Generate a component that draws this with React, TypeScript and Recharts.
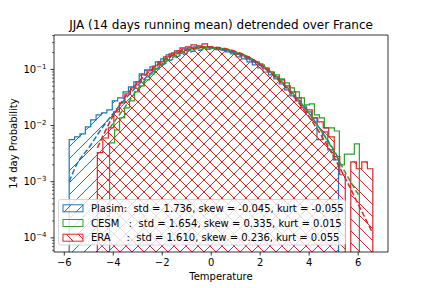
import React from 'react';
import { ComposedChart, Area, Line, XAxis, YAxis } from 'recharts';

// histogram densities, 50 equal bins over each range
const plasimRange = [-5.8, 5.2];
const plasimProb = [
  0.0056, 0.0063, 0.0071, 0.0095, 0.0126, 0.0155, 0.0168, 0.019, 0.0275, 0.0311,
  0.0398, 0.0488, 0.06, 0.083, 0.098, 0.111, 0.136, 0.154, 0.181, 0.197,
  0.213, 0.232, 0.241, 0.251, 0.251, 0.248, 0.241, 0.232, 0.222, 0.205,
  0.189, 0.167, 0.154, 0.136, 0.12, 0.106, 0.09, 0.08, 0.0678, 0.0552,
  0.0432, 0.0337, 0.0275, 0.0224, 0.0175, 0.0137, 0.0056, 0.0077, 0.0037, 0.00245,
];

const cesmRange = [-4.15, 6.05];
const cesmProb = [
  0.0049, 0.0084, 0.0137, 0.0207, 0.0275, 0.0398, 0.0508, 0.065, 0.083, 0.102,
  0.125, 0.148, 0.174, 0.189, 0.205, 0.222, 0.232, 0.241, 0.251, 0.251,
  0.241, 0.241, 0.232, 0.222, 0.205, 0.189, 0.181, 0.167, 0.148, 0.136,
  0.12, 0.106, 0.09, 0.08, 0.0678, 0.0575, 0.0469, 0.0398, 0.0311, 0.0233,
  0.0243, 0.0155, 0.0137, 0.0091, 0.0091, 0.008, 0.002, 0.0031, 0.0031, 0.0047,
];

const eraRange = [-4.65, 6.6];
const eraProb = [
  0.0033, 0.006, 0.0091, 0.0175, 0.0253, 0.0366, 0.0469, 0.06, 0.08, 0.094,
  0.115, 0.136, 0.167, 0.189, 0.213, 0.241, 0.251, 0.273, 0.262, 0.284,
  0.251, 0.241, 0.232, 0.222, 0.205, 0.189, 0.174, 0.154, 0.136, 0.125,
  0.106, 0.09, 0.0736, 0.065, 0.0508, 0.0398, 0.0311, 0.0207, 0.019, 0.0137,
  0.0116, 0.0091, 0.0063, 0.0028, 0.00133, 0, 0.00226, 0.0017, 0.00226, 0.0017,
];

// fitted pdfs (dashed)
const plasimFitT = [-5.8, -5.5, -5, -4.5, -4, -3.5, -3, -2.5, -2, -1.5, -1, -0.5, 0, 0.5, 1, 1.5, 2, 2.5, 3, 3.5, 4, 4.5, 5, 5.2];
const plasimFitP = [0.001, 0.002, 0.004, 0.0085, 0.0165, 0.03, 0.052, 0.083, 0.118, 0.158, 0.195, 0.22, 0.23, 0.22, 0.195, 0.158, 0.118, 0.082, 0.052, 0.03, 0.0165, 0.008, 0.0037, 0.0026];
const cesmFitT = [-4.15, -3.5, -3, -2.5, -2, -1.5, -1, -0.5, 0, 0.5, 1, 1.5, 2, 2.5, 3, 3.5, 4, 4.5, 5, 5.5, 6.05];
const cesmFitP = [0.009, 0.022, 0.045, 0.08, 0.125, 0.17, 0.21, 0.235, 0.241, 0.232, 0.205, 0.168, 0.125, 0.086, 0.054, 0.031, 0.0165, 0.008, 0.0035, 0.0014, 0.00055];
const eraFitT = [-4.65, -4, -3.5, -3, -2.5, -2, -1.5, -1, -0.5, 0, 0.5, 1, 1.5, 2, 2.5, 3, 3.5, 4, 4.5, 5, 5.5, 6, 6.6];
const eraFitP = [0.004, 0.015, 0.033, 0.058, 0.094, 0.14, 0.185, 0.222, 0.245, 0.25, 0.238, 0.208, 0.168, 0.122, 0.082, 0.05, 0.028, 0.0142, 0.0066, 0.0028, 0.0011, 0.0004, 0.00012];

const legendLabels = [
  'Plasim:  std = 1.736, skew = -0.045, kurt = -0.055',
  'CESM   :  std = 1.654, skew = 0.335, kurt = 0.015',
  'ERA     :  std = 1.610, skew = 0.236, kurt = 0.055',
];
const xTicks = [-6, -4, -2, 0, 2, 4, 6];
const yDecades = [1e-5, 1e-4, 1e-3, 1e-2, 1e-1];

const BLUE = '#1f77b4';
const GREEN = '#2ca02c';
const RED = '#d62728';
const FONT = 'DejaVu Sans, sans-serif';

const X_MIN = -6.42;
const X_MAX = 7.22;
const Y_MIN = 5.6e-5;
const Y_MAX = 0.41;
const FLOOR = 1e-6;

const LEFT = 54;
const RIGHT = 388;
const TOP = 35;
const BOTTOM = 252;

const stepData = (range: number[], prob: number[]) => {
  const n = prob.length;
  const w = (range[1] - range[0]) / n;
  const pts = [{ x: range[0], y: FLOOR }];
  prob.forEach((p, i) => pts.push({ x: range[0] + i * w, y: p > 0 ? p : FLOOR }));
  pts.push({ x: range[1], y: prob[n - 1] > 0 ? prob[n - 1] : FLOOR });
  pts.push({ x: range[1], y: FLOOR });
  return pts;
};

const fitData = (t: number[], p: number[]) => t.map((x, i) => ({ x, y: p[i] }));

const yTicks: number[] = [];
yDecades.forEach((d) => {
  for (let m = 1; m <= 9; m++) {
    const v = m * d;
    if (v >= Y_MIN && v <= Y_MAX) yTicks.push(v);
  }
});

const YTick = (props: any) => {
  const { y, payload } = props;
  const v = payload.value;
  const exp = Math.round(Math.log10(v));
  const major = Math.abs(v - Math.pow(10, exp)) < v * 1e-6;
  return (
    <g>
      <line x1={LEFT - (major ? 3.5 : 2)} x2={LEFT} y1={y} y2={y} stroke="#000" strokeWidth={major ? 0.8 : 0.6} />
      {major && (
        <text x={46.5} y={y + 3.6} textAnchor="end" fontSize={10} fontFamily={FONT} fill="#000">
          10
          <tspan dy={-4.4} fontSize={7}>{'\u2212' + -exp}</tspan>
        </text>
      )}
    </g>
  );
};

const XTick = (props: any) => {
  const { x, payload } = props;
  const v = payload.value;
  return (
    <g>
      <line x1={x} x2={x} y1={BOTTOM} y2={BOTTOM + 3.5} stroke="#000" strokeWidth={0.8} />
      <text x={x} y={BOTTOM + 13.5} textAnchor="middle" fontSize={10} fontFamily={FONT} fill="#000">
        {v < 0 ? '\u2212' + -v : String(v)}
      </text>
    </g>
  );
};

const Patterns = () => (
  <svg width={0} height={0} style={{ position: 'absolute' }}>
    <defs>
      <pattern id="hatchBlue" patternUnits="userSpaceOnUse" width={12} height={12}>
        <path d="M0,12 L12,0 M-3,3 L3,-3 M9,15 L15,9" stroke={BLUE} strokeWidth={1} />
      </pattern>
      <pattern id="hatchRed" patternUnits="userSpaceOnUse" width={12} height={12}>
        <path d="M0,0 L12,12 M-3,9 L3,15 M9,-3 L15,3" stroke={RED} strokeWidth={1} />
      </pattern>
    </defs>
  </svg>
);

const Overlay = () => {
  const rows = [
    { fill: 'url(#hatchBlue)', stroke: BLUE },
    { fill: 'none', stroke: GREEN },
    { fill: 'url(#hatchRed)', stroke: RED },
  ];
  return (
    <svg width={432} height={288} style={{ position: 'absolute', left: 0, top: 0, pointerEvents: 'none' }}>
      <line x1={LEFT} x2={RIGHT} y1={TOP} y2={TOP} stroke="#000" strokeWidth={0.8} />
      <line x1={RIGHT} x2={RIGHT} y1={TOP} y2={BOTTOM} stroke="#000" strokeWidth={0.8} />
      <text x={(LEFT + RIGHT) / 2} y={29} textAnchor="middle" fontSize={12} fontFamily={FONT} fill="#000">
        JJA (14 days running mean) detrended over France
      </text>
      <text x={(LEFT + RIGHT) / 2} y={280} textAnchor="middle" fontSize={10} fontFamily={FONT} fill="#000">
        Temperature
      </text>
      <text
        x={0}
        y={0}
        transform={`translate(16.5, ${(TOP + BOTTOM) / 2}) rotate(-90)`}
        textAnchor="middle"
        fontSize={10}
        fontFamily={FONT}
        fill="#000"
      >
        14 day Probability
      </text>
      <rect x={58.5} y={199.5} width={287} height={45.5} rx={2} fill="#fff" fillOpacity={0.8} stroke="#cccccc" strokeWidth={0.8} />
      {rows.map((r, i) => {
        const cy = 208.3 + i * 14.7;
        return (
          <g key={i}>
            <rect x={63} y={cy - 3.5} width={20} height={7} fill={r.fill} stroke={r.stroke} strokeWidth={1} />
            <text x={91} y={cy + 3.6} fontSize={10} fontFamily={FONT} fill="#000" style={{ whiteSpace: 'pre' }}>
              {legendLabels[i]}
            </text>
          </g>
        );
      })}
    </svg>
  );
};

const App = () => {
  return (
    <div style={{ position: 'absolute', left: 0, top: 0, width: 432, height: 288, background: '#fff' }}>
      <Patterns />
      <ComposedChart width={432} height={288} margin={{ top: TOP, right: 432 - RIGHT, bottom: 0, left: 0 }}>
        <XAxis
          dataKey="x"
          type="number"
          domain={[X_MIN, X_MAX]}
          allowDataOverflow
          ticks={xTicks}
          interval={0}
          height={288 - BOTTOM}
          tickLine={false}
          tickSize={0}
          tick={XTick}
          axisLine={{ stroke: '#000', strokeWidth: 0.8 }}
        />
        <YAxis
          type="number"
          scale="log"
          domain={[Y_MIN, Y_MAX]}
          allowDataOverflow
          ticks={yTicks}
          interval={0}
          width={LEFT}
          tickLine={false}
          tickSize={0}
          tick={YTick}
          axisLine={{ stroke: '#000', strokeWidth: 0.8 }}
        />
        <Area
          data={stepData(plasimRange, plasimProb)}
          dataKey="y"
          type="stepAfter"
          baseValue={FLOOR}
          stroke={BLUE}
          strokeWidth={1.2}
          fill="url(#hatchBlue)"
          fillOpacity={1}
          isAnimationActive={false}
        />
        <Line data={fitData(plasimFitT, plasimFitP)} dataKey="y" type="monotone" stroke={BLUE} strokeWidth={1.5} strokeDasharray="5.5 2.4" dot={false} isAnimationActive={false} />
        <Area
          data={stepData(cesmRange, cesmProb)}
          dataKey="y"
          type="stepAfter"
          baseValue={FLOOR}
          stroke={GREEN}
          strokeWidth={1.2}
          fill="none"
          isAnimationActive={false}
        />
        <Line data={fitData(cesmFitT, cesmFitP)} dataKey="y" type="monotone" stroke={GREEN} strokeWidth={1.5} strokeDasharray="5.5 2.4" dot={false} isAnimationActive={false} />
        <Area
          data={stepData(eraRange, eraProb)}
          dataKey="y"
          type="stepAfter"
          baseValue={FLOOR}
          stroke={RED}
          strokeWidth={1.2}
          fill="url(#hatchRed)"
          fillOpacity={1}
          isAnimationActive={false}
        />
        <Line data={fitData(eraFitT, eraFitP)} dataKey="y" type="monotone" stroke={RED} strokeWidth={1.5} strokeDasharray="5.5 2.4" dot={false} isAnimationActive={false} />
      </ComposedChart>
      <Overlay />
    </div>
  );
};

export default App;
